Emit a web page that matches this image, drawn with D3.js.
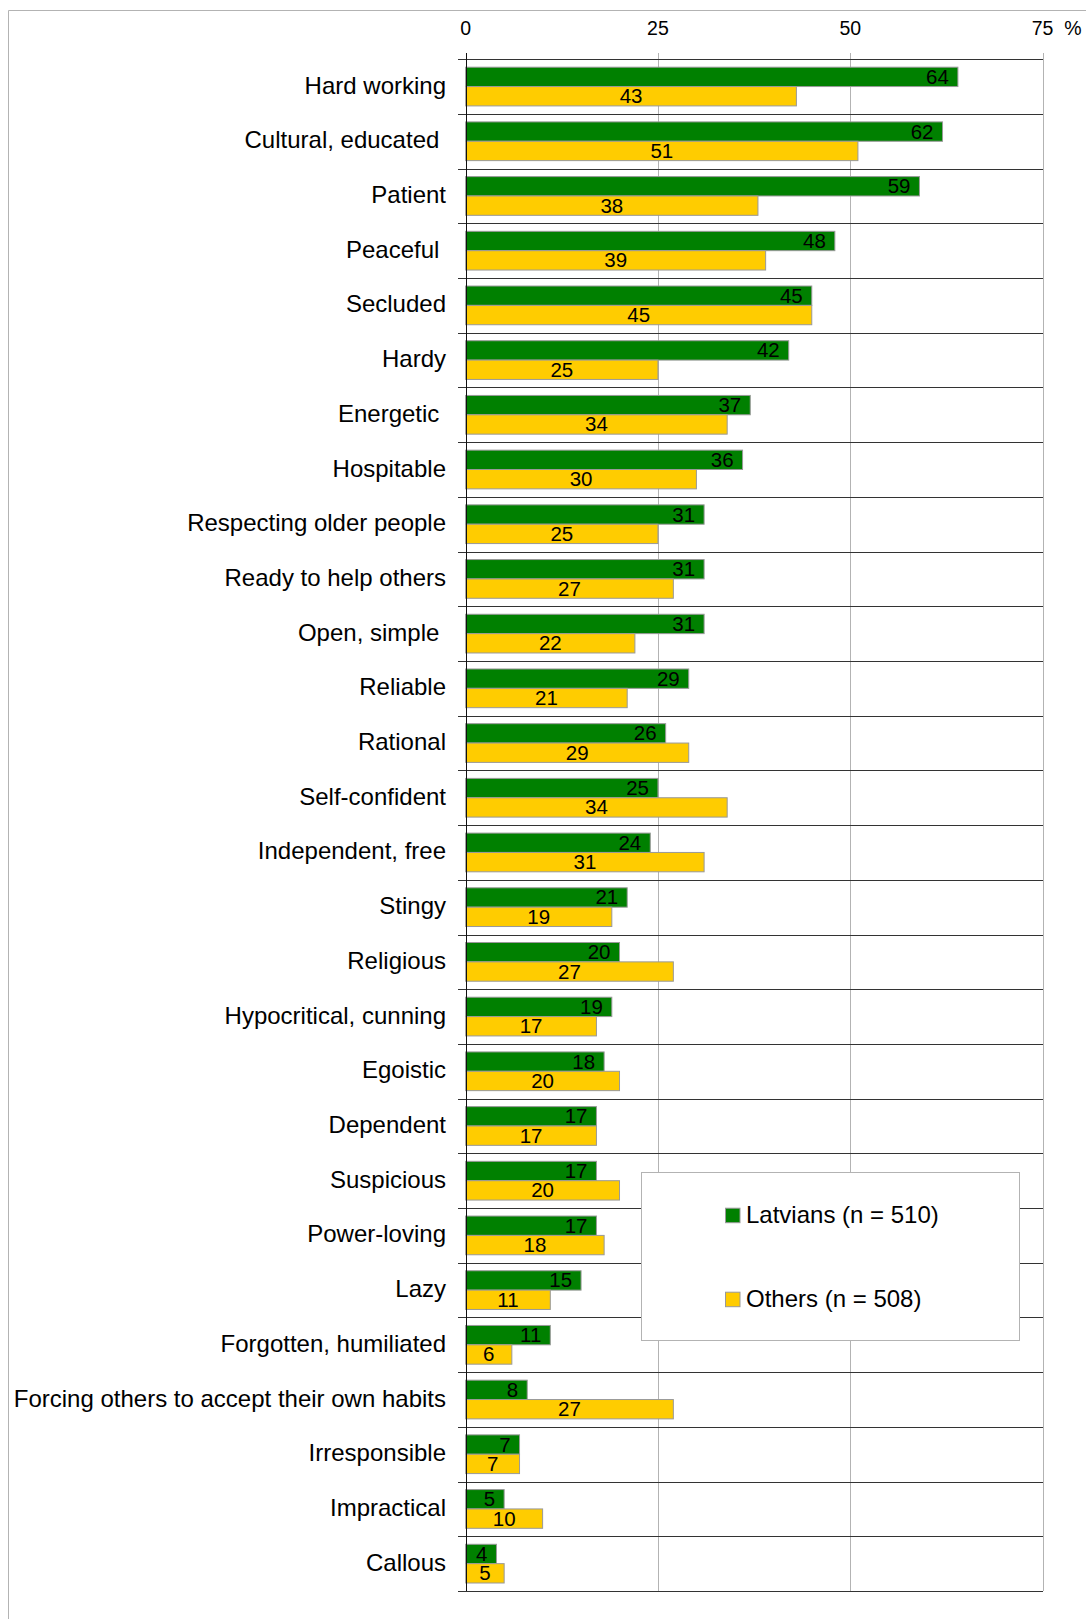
<!DOCTYPE html>
<html>
<head>
<meta charset="utf-8">
<script src="https://cdn.jsdelivr.net/npm/d3@7"></script>
<style>
  html, body { margin: 0; padding: 0; background: #fff; }
  svg { display: block; font-family: "Liberation Sans", Arial, sans-serif; }
  text { white-space: pre; }
</style>
</head>
<body>
<svg id="chart" width="1086" height="1619"></svg>
<script>
// Traits attributed to each group, share of respondents (%)
const categories = [
  "Hard working", "Cultural, educated ", "Patient", "Peaceful ", "Secluded", "Hardy",
  "Energetic ", "Hospitable", "Respecting older people", "Ready to help others",
  "Open, simple ", "Reliable", "Rational", "Self-confident", "Independent, free",
  "Stingy", "Religious", "Hypocritical, cunning", "Egoistic", "Dependent",
  "Suspicious", "Power-loving", "Lazy", "Forgotten, humiliated",
  "Forcing others to accept their own habits", "Irresponsible", "Impractical", "Callous"
];
const latvians = [64, 62, 59, 48, 45, 42, 37, 36, 31, 31, 31, 29, 26, 25, 24, 21, 20, 19, 18, 17, 17, 17, 15, 11, 8, 7, 5, 4];
const others   = [43, 51, 38, 39, 45, 25, 34, 30, 25, 27, 22, 21, 29, 34, 31, 19, 27, 17, 20, 17, 20, 18, 11, 6, 27, 7, 10, 5];
const seriesNames = ["Latvians (n = 510)", "Others (n = 508)"];
const seriesColors = ["#008000", "#ffcc00"];
const xTicks = [0, 25, 50, 75];
const unitLabel = "%";

const svg = d3.select("#chart");

// Outer frame (top and left edges)
svg.append("line").attr("x1", 8.5).attr("x2", 1086).attr("y1", 10.5).attr("y2", 10.5)
  .attr("stroke", "#b3b3b3").attr("stroke-width", 1);
svg.append("line").attr("x1", 8.5).attr("x2", 8.5).attr("y1", 10.5).attr("y2", 1619)
  .attr("stroke", "#b3b3b3").attr("stroke-width", 1);

const x = d3.scaleLinear().domain([0, 75]).range([465.7, 1042.5]);
const y = d3.scaleBand().domain(d3.range(categories.length)).range([59.2, 1591]).padding(0);
const ySub = d3.scaleBand().domain([0, 1]).range([0, y.bandwidth()]).paddingInner(0).paddingOuter(0.413);

// Vertical gridlines (with short ticks above the top line)
svg.append("g").selectAll("line").data(xTicks.slice(1)).join("line")
  .attr("x1", d => Math.round(x(d)) + 0.5).attr("x2", d => Math.round(x(d)) + 0.5)
  .attr("y1", 53).attr("y2", 1591)
  .attr("stroke", "#b3b3b3").attr("stroke-width", 1);

// Category separators
const bounds = d3.range(categories.length + 1).map(i => y.range()[0] + i * y.step());
svg.append("g").selectAll("line").data(bounds).join("line")
  .attr("x1", 458).attr("x2", x(75) + 0.5)
  .attr("y1", d => Math.round(d) + 0.5).attr("y2", d => Math.round(d) + 0.5)
  .attr("stroke", "#333").attr("stroke-width", 1);

// Tick labels
svg.append("g").selectAll("text").data(xTicks).join("text")
  .attr("x", d => x(d)).attr("y", 35)
  .attr("text-anchor", "middle").attr("font-size", 19.5).attr("fill", "#000")
  .text(d => d);
svg.append("text").attr("x", 1073).attr("y", 35).attr("text-anchor", "middle")
  .attr("font-size", 19.5).text(unitLabel);

// Category labels
svg.append("g").selectAll("text").data(categories).join("text")
  .attr("x", 446).attr("y", (d, i) => y(i) + y.bandwidth() / 2 + 7)
  .attr("text-anchor", "end").attr("font-size", 24).attr("fill", "#000")
  .text(d => d);

// Bars
const series = [latvians, others];
series.forEach((vals, s) => {
  const g = svg.append("g");
  g.selectAll("rect").data(vals).join("rect")
    .attr("x", x(0))
    .attr("y", (d, i) => y(i) + ySub(s))
    .attr("width", d => x(d) - x(0))
    .attr("height", ySub.bandwidth())
    .attr("fill", seriesColors[s])
    .attr("stroke", "#999").attr("stroke-width", 1);
});

// Zero axis line
svg.append("line").attr("x1", Math.round(x(0)) + 0.5).attr("x2", Math.round(x(0)) + 0.5)
  .attr("y1", 53).attr("y2", 1591).attr("stroke", "#111").attr("stroke-width", 1);

// Value labels: Latvians at the bar end, Others centred in the bar
svg.append("g").selectAll("text").data(latvians).join("text")
  .attr("x", d => x(d) - 9)
  .attr("y", (d, i) => y(i) + ySub(0) + ySub.bandwidth() / 2 + 7)
  .attr("text-anchor", "end").attr("font-size", 20.5).attr("fill", "#000")
  .text(d => d);
svg.append("g").selectAll("text").data(others).join("text")
  .attr("x", d => (x(d) + x(0)) / 2)
  .attr("y", (d, i) => y(i) + ySub(1) + ySub.bandwidth() / 2 + 7)
  .attr("text-anchor", "middle").attr("font-size", 20.5).attr("fill", "#000")
  .text(d => d);

// Legend
const legend = svg.append("g");
legend.append("rect").attr("x", 641.5).attr("y", 1172.5).attr("width", 378).attr("height", 168)
  .attr("fill", "#fff").attr("stroke", "#b3b3b3").attr("stroke-width", 1);
const legendY = [1222.7, 1306.7];
seriesNames.forEach((name, s) => {
  legend.append("rect").attr("x", 725.5).attr("y", legendY[s] - 14.5).attr("width", 14.5).attr("height", 14.5)
    .attr("fill", seriesColors[s]).attr("stroke", "#999").attr("stroke-width", 1);
  legend.append("text").attr("x", 746).attr("y", legendY[s])
    .attr("font-size", 24).attr("fill", "#000").text(name);
});
</script>
</body>
</html>
